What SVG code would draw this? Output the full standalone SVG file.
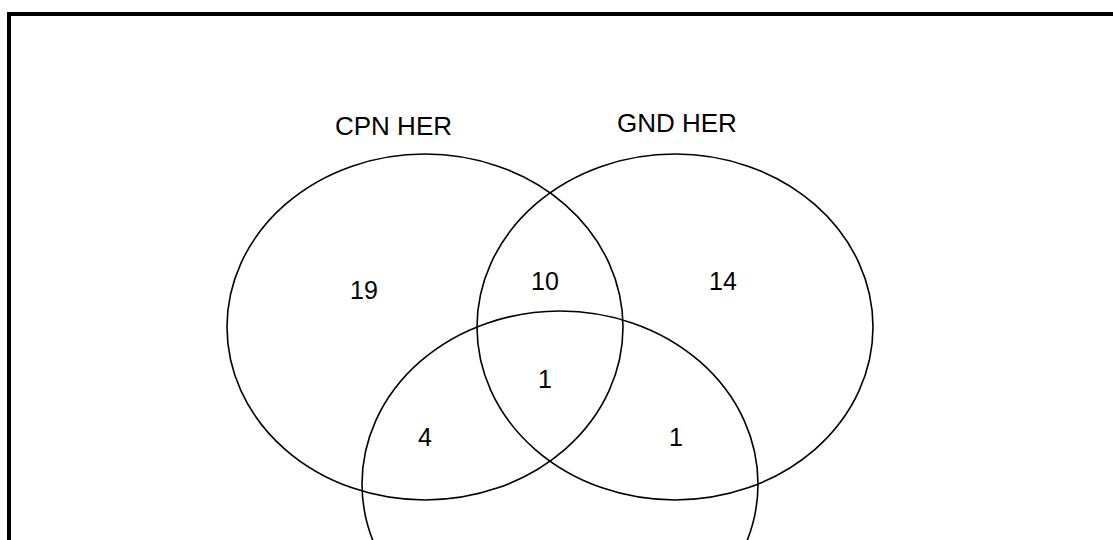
<svg xmlns="http://www.w3.org/2000/svg" width="1113" height="540" viewBox="0 0 1113 540">
  <style>
    .set { fill: none; stroke: #000; stroke-width: 1.6; }
    .lbl { font-family: "Liberation Sans", Arial, sans-serif; font-size: 26px; fill: #000; }
    .num { font-family: "Liberation Sans", Arial, sans-serif; font-size: 25px; fill: #000; text-anchor: middle; }
  </style>
  <rect x="0" y="0" width="1113" height="540" fill="#fff"/>
  <!-- frame -->
  <rect x="9" y="14" width="1120" height="560" fill="none" stroke="#000" stroke-width="4"/>
  <g id="cpn-her">
    <ellipse class="set" cx="425" cy="327" rx="198" ry="173"/>
    <text class="lbl" x="335" y="135">CPN HER</text>
  </g>
  <g id="gnd-her">
    <ellipse class="set" cx="675" cy="327" rx="198" ry="173"/>
    <text class="lbl" x="617" y="132">GND HER</text>
  </g>
  <g id="third-set">
    <ellipse class="set" cx="560" cy="484" rx="198" ry="173"/>
  </g>
  <g id="counts">
    <text class="num" x="364" y="299">19</text>
    <text class="num" x="545" y="290">10</text>
    <text class="num" x="723" y="290">14</text>
    <text class="num" x="545" y="388">1</text>
    <text class="num" x="425" y="446">4</text>
    <text class="num" x="676" y="446">1</text>
  </g>
</svg>
